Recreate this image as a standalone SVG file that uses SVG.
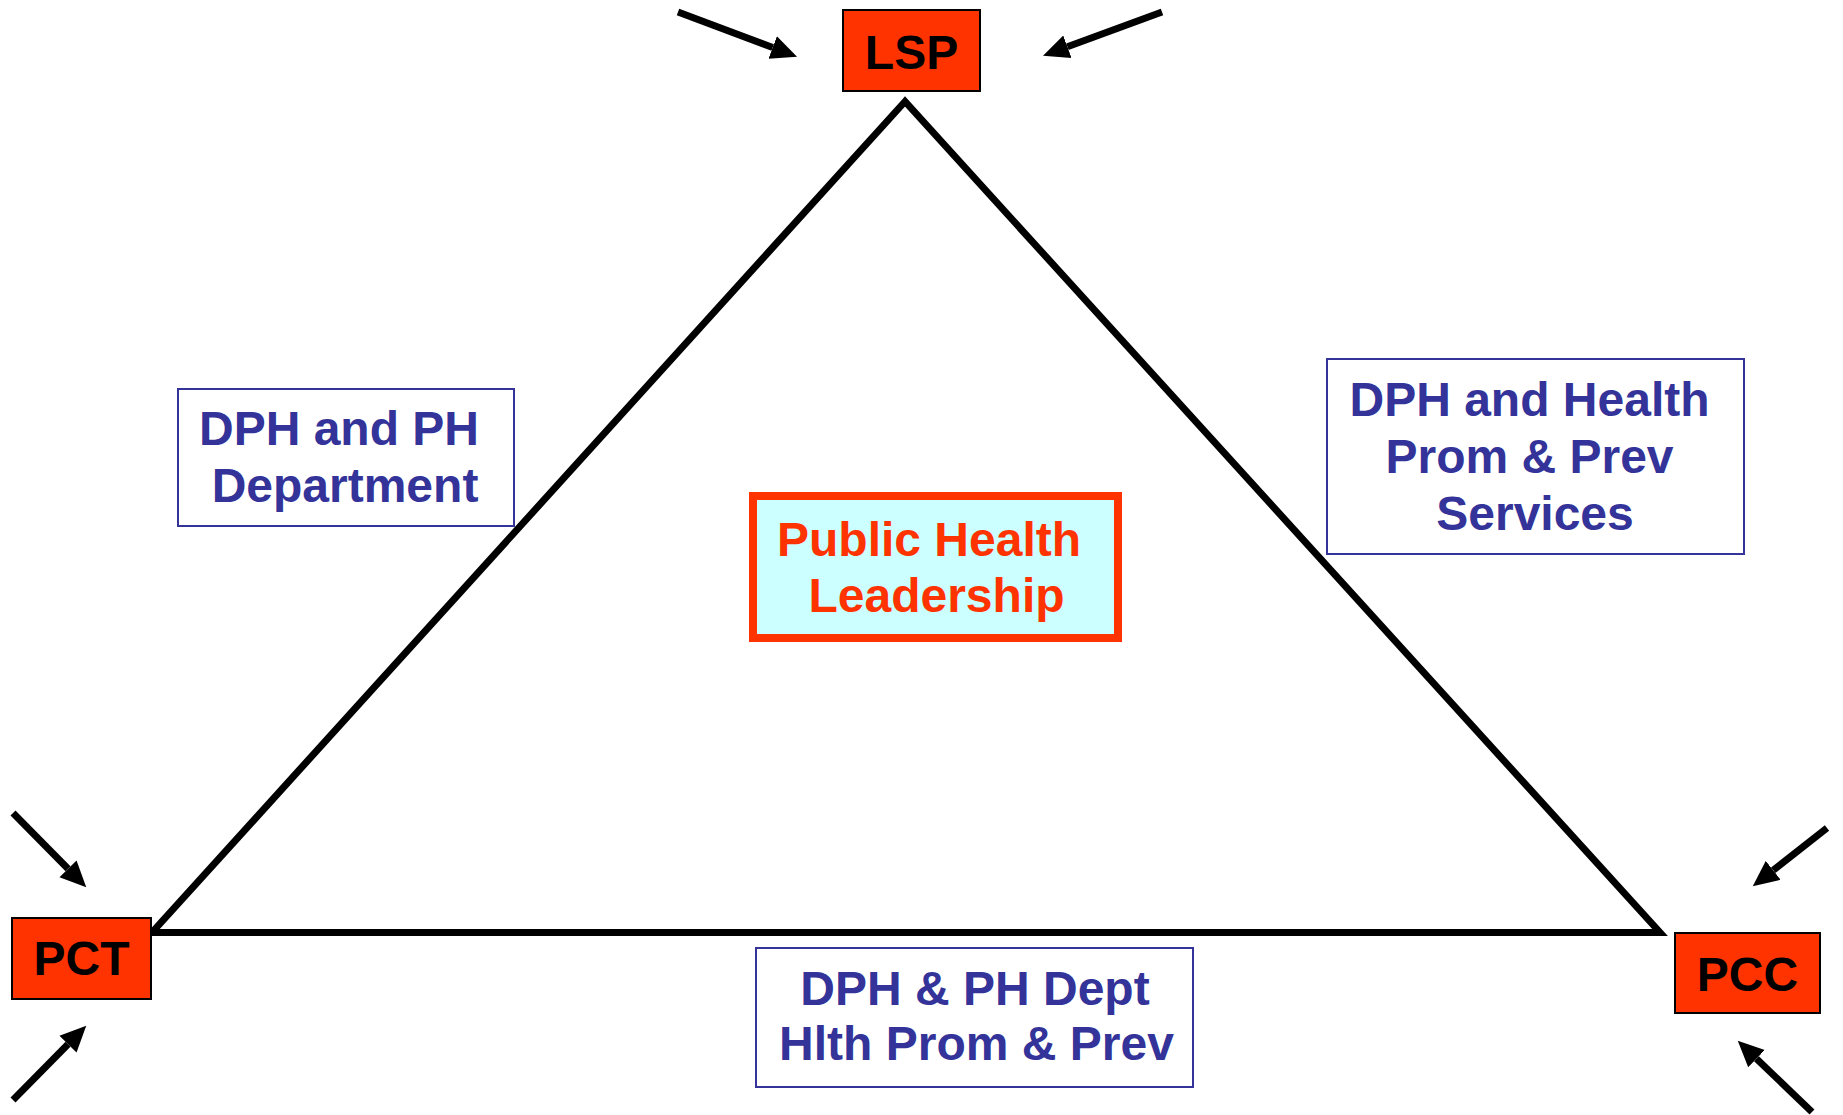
<svg xmlns="http://www.w3.org/2000/svg" width="1843" height="1115" viewBox="0 0 1843 1115">
<style>
  .t { font-family: "Liberation Sans", Arial, sans-serif; font-weight: bold; font-size: 48px; text-anchor: middle; }
  .org rect { fill: #FF3300; stroke: #000; stroke-width: 2; }
  .org text { fill: #000; }
  .lbl rect { fill: #fff; stroke: #333399; stroke-width: 2; }
  .lbl text { fill: #333399; }
  .arr line { stroke: #000; stroke-width: 7; marker-end: url(#ah); }
</style>
<defs>
  <marker id="ah" markerUnits="userSpaceOnUse" viewBox="0 -13 27 26" markerWidth="27" markerHeight="26" refX="0" refY="0" orient="auto">
    <path d="M0,-12 L26,0 L0,12 z" fill="#000"/>
  </marker>
</defs>
<rect width="1843" height="1115" fill="#fff"/>
<g id="connectors">
  <polygon id="triangle" points="905,101.5 152,932.5 1660,932.5" fill="none" stroke="#000" stroke-width="7" stroke-linejoin="miter"/>
  <g class="arr">
    <line x1="678" y1="12" x2="772.7" y2="47.5"/>
    <line x1="1162" y1="12" x2="1067.4" y2="46.7"/>
    <line x1="13" y1="813" x2="68" y2="868.8"/>
    <line x1="13" y1="1100" x2="68" y2="1044.2"/>
    <line x1="1827" y1="828" x2="1773.2" y2="870.3"/>
    <line x1="1812" y1="1112" x2="1756.5" y2="1058.7"/>
  </g>
</g>
<g id="lsp" class="org">
  <rect x="843" y="10" width="137" height="81"/>
  <text class="t" x="911.5" y="69">LSP</text>
</g>
<g id="pct" class="org">
  <rect x="12" y="918" width="139" height="81"/>
  <text class="t" x="81.5" y="975">PCT</text>
</g>
<g id="pcc" class="org">
  <rect x="1675" y="933" width="145" height="80"/>
  <text class="t" x="1747.5" y="991">PCC</text>
</g>
<g id="leadership">
  <rect x="753" y="496" width="365" height="142" fill="#CCFFFF" stroke="#FF3300" stroke-width="8"/>
  <text class="t" x="929" y="556" fill="#FF3300">Public Health</text>
  <text class="t" x="936.5" y="612" fill="#FF3300">Leadership</text>
</g>
<g id="dph-ph-department" class="lbl">
  <rect x="178" y="389" width="336" height="137"/>
  <text class="t" x="339" y="445">DPH and PH</text>
  <text class="t" x="345" y="502">Department</text>
</g>
<g id="dph-health-services" class="lbl">
  <rect x="1327" y="359" width="417" height="195"/>
  <text class="t" x="1529.5" y="416">DPH and Health</text>
  <text class="t" x="1529.5" y="473">Prom &amp; Prev</text>
  <text class="t" x="1535" y="530">Services</text>
</g>
<g id="dph-ph-dept-hlth" class="lbl">
  <rect x="756" y="948" width="437" height="139"/>
  <text class="t" x="975" y="1005">DPH &amp; PH Dept</text>
  <text class="t" x="976.5" y="1060">Hlth Prom &amp; Prev</text>
</g>
</svg>
